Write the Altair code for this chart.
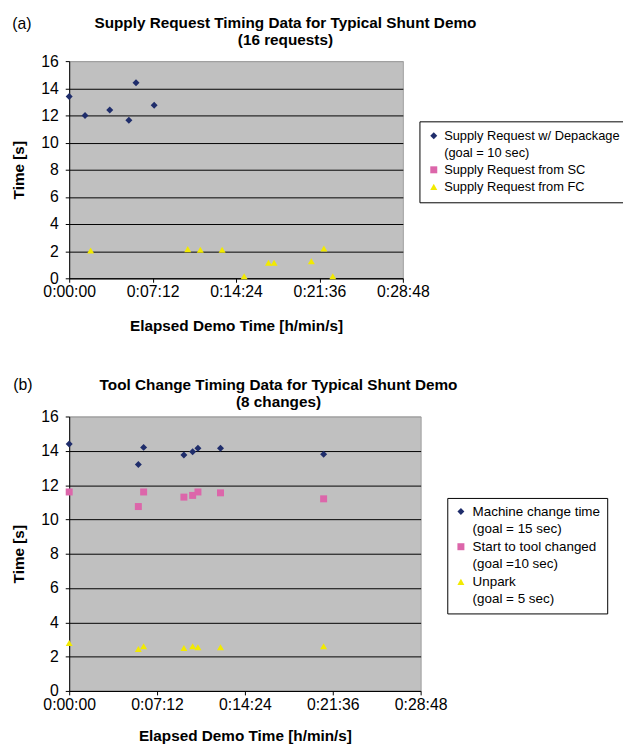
import altair as alt
import pandas as pd

FONT = "Liberation Sans"
NAVY = "#1f2d6b"
PINK = "#dc66aa"
YELLOW = "#f2ea00"

# ---- Panel (a): Supply request timing ----
a_dep_t = [0, 82, 210, 309, 346, 440]
a_dep_v = [13.4, 12.0, 12.4, 11.65, 14.4, 12.75]
a_fc_t = [111, 614, 679, 792, 906, 1032, 1061, 1254, 1319, 1365]
a_fc_v = [2.05, 2.15, 2.1, 2.1, 0.15, 1.15, 1.15, 1.25, 2.2, 0.15]
a_series = ["Supply Request w/ Depackage", "(goal = 10 sec)",
            "Supply Request from SC", "Supply Request from FC"]
a_colors = [NAVY, "transparent", PINK, YELLOW]
a_shapes = ["diamond", "circle", "square", "triangle-up"]

# ---- Panel (b): Tool change timing ----
b_t = [0, 340, 366, 564, 607, 633, 744, 1251]
b_mc = [14.4, 13.2, 14.2, 13.75, 13.95, 14.15, 14.15, 13.8]
b_st = [11.6, 10.75, 11.6, 11.3, 11.4, 11.6, 11.55, 11.2]
b_un = [2.8, 2.45, 2.6, 2.5, 2.6, 2.55, 2.55, 2.6]
b_series = ["Machine change time", "(goal = 15 sec)",
            "Start to tool changed", "(goal =10 sec)",
            "Unpark", "(goal = 5 sec)"]
b_colors = [NAVY, "transparent", PINK, "transparent", YELLOW, "transparent"]
b_shapes = ["diamond", "circle", "square", "circle", "triangle-up", "circle"]

x_ticks = [0, 432, 864, 1296, 1728]
y_ticks = [0, 2, 4, 6, 8, 10, 12, 14, 16]

df_a = pd.concat([
    pd.DataFrame({"t": a_dep_t, "v": a_dep_v, "series": a_series[0]}),
    pd.DataFrame({"t": a_fc_t, "v": a_fc_v, "series": a_series[3]}),
])
df_b = pd.concat([
    pd.DataFrame({"t": b_t, "v": b_mc, "series": b_series[0]}),
    pd.DataFrame({"t": b_t, "v": b_st, "series": b_series[2]}),
    pd.DataFrame({"t": b_t, "v": b_un, "series": b_series[4]}),
])

label_expr = ("floor(datum.value/3600) + ':' + (floor(datum.value%3600/60) < 10 ? '0' : '') + "
              "floor(datum.value%3600/60) + ':' + (datum.value%60 < 10 ? '0' : '') + (datum.value%60)")


def panel(df, domain, colors, shapes, w, h, title, dx, toff, tag, tagx, tagy,
          legx, legy, legpad, rowpad, laboff, legfs, xty):
    legend = alt.Legend(orient="none", legendX=legx, legendY=legy, title=None,
                        padding=legpad, rowPadding=rowpad, labelOffset=laboff,
                        labelFont=FONT, labelFontSize=legfs, labelColor="black",
                        labelLimit=400, strokeColor="black", fillColor="white",
                        cornerRadius=0, symbolStrokeWidth=0, symbolSize=50)
    x = alt.X("t:Q", scale=alt.Scale(domain=[0, 1728], nice=False, zero=False),
              axis=alt.Axis(values=x_ticks, labelExpr=label_expr, grid=False,
                            title="Elapsed Demo Time [h/min/s]", labelFlush=False,
                            labelOverlap=False, tickSize=4, labelPadding=1.5,
                            titleX=w / 2, titleY=xty, titleBaseline="middle",
                            titleAlign="center"))
    y = alt.Y("v:Q", scale=alt.Scale(domain=[0, 16], nice=False),
              axis=alt.Axis(values=y_ticks, format="d", grid=True,
                            gridColor={"condition": {"test": "datum.value === 16", "value": "#a0a0a0"},
                                       "value": "black"},
                            title="Time [s]", tickSize=4, labelPadding=7,
                            titleX=-51, titleY=h / 2, titleBaseline="middle",
                            titleAlign="center", titleAngle=270))
    pts = alt.Chart(df).mark_point(filled=True, opacity=1, size=50).encode(
        x=x, y=y,
        color=alt.Color("series:N", scale=alt.Scale(domain=domain, range=colors), legend=legend),
        shape=alt.Shape("series:N", scale=alt.Scale(domain=domain, range=shapes), legend=legend),
    )
    lab = alt.Chart(pd.DataFrame({"tag": [tag]})).mark_text(
        font=FONT, fontSize=16, align="center", baseline="middle", color="black"
    ).encode(text="tag:N", x=alt.value(tagx), y=alt.value(tagy))
    return alt.layer(pts, lab).properties(
        width=w, height=h,
        title=alt.TitleParams(text=title, font=FONT, fontSize=15.5, fontWeight="bold",
                              color="black", anchor="middle", frame="group", dx=dx,
                              offset=toff, lineHeight=17),
    )


pa = panel(df_a, a_series, a_colors, a_shapes, 338, 220,
           ["Supply Request Timing Data for Typical Shunt Demo", "(16 requests)"],
           50, -33.4, "(a)", -48, -38, 354.8, 61, 8, 3.3, 4, 13.0, 48)
pb = panel(df_b, b_series, b_colors, b_shapes, 356, 278,
           ["Tool Change Timing Data for Typical Shunt Demo", "(8 changes)"],
           34, -33.7, "(b)", -47, -32, 383, 82.5, 7, 2.8, 5, 13.6, 45)

chart = alt.vconcat(pa, pb, spacing=42).resolve_scale(
    color="independent", shape="independent", x="independent", y="independent"
).resolve_legend(color="independent", shape="independent").properties(
    padding={"left": 3, "top": 2, "right": -6, "bottom": 0}
).configure_view(fill="#c0c0c0", stroke="#a0a0a0").configure_axis(
    domainColor="black", tickColor="black", labelColor="black", titleColor="black",
    labelFont=FONT, titleFont=FONT, labelFontSize=16, titleFontSize=15.5,
    titleFontWeight="bold", gridWidth=1, domainWidth=1
)

chart.save("out.html", embed_options={"renderer": "svg", "actions": False})
